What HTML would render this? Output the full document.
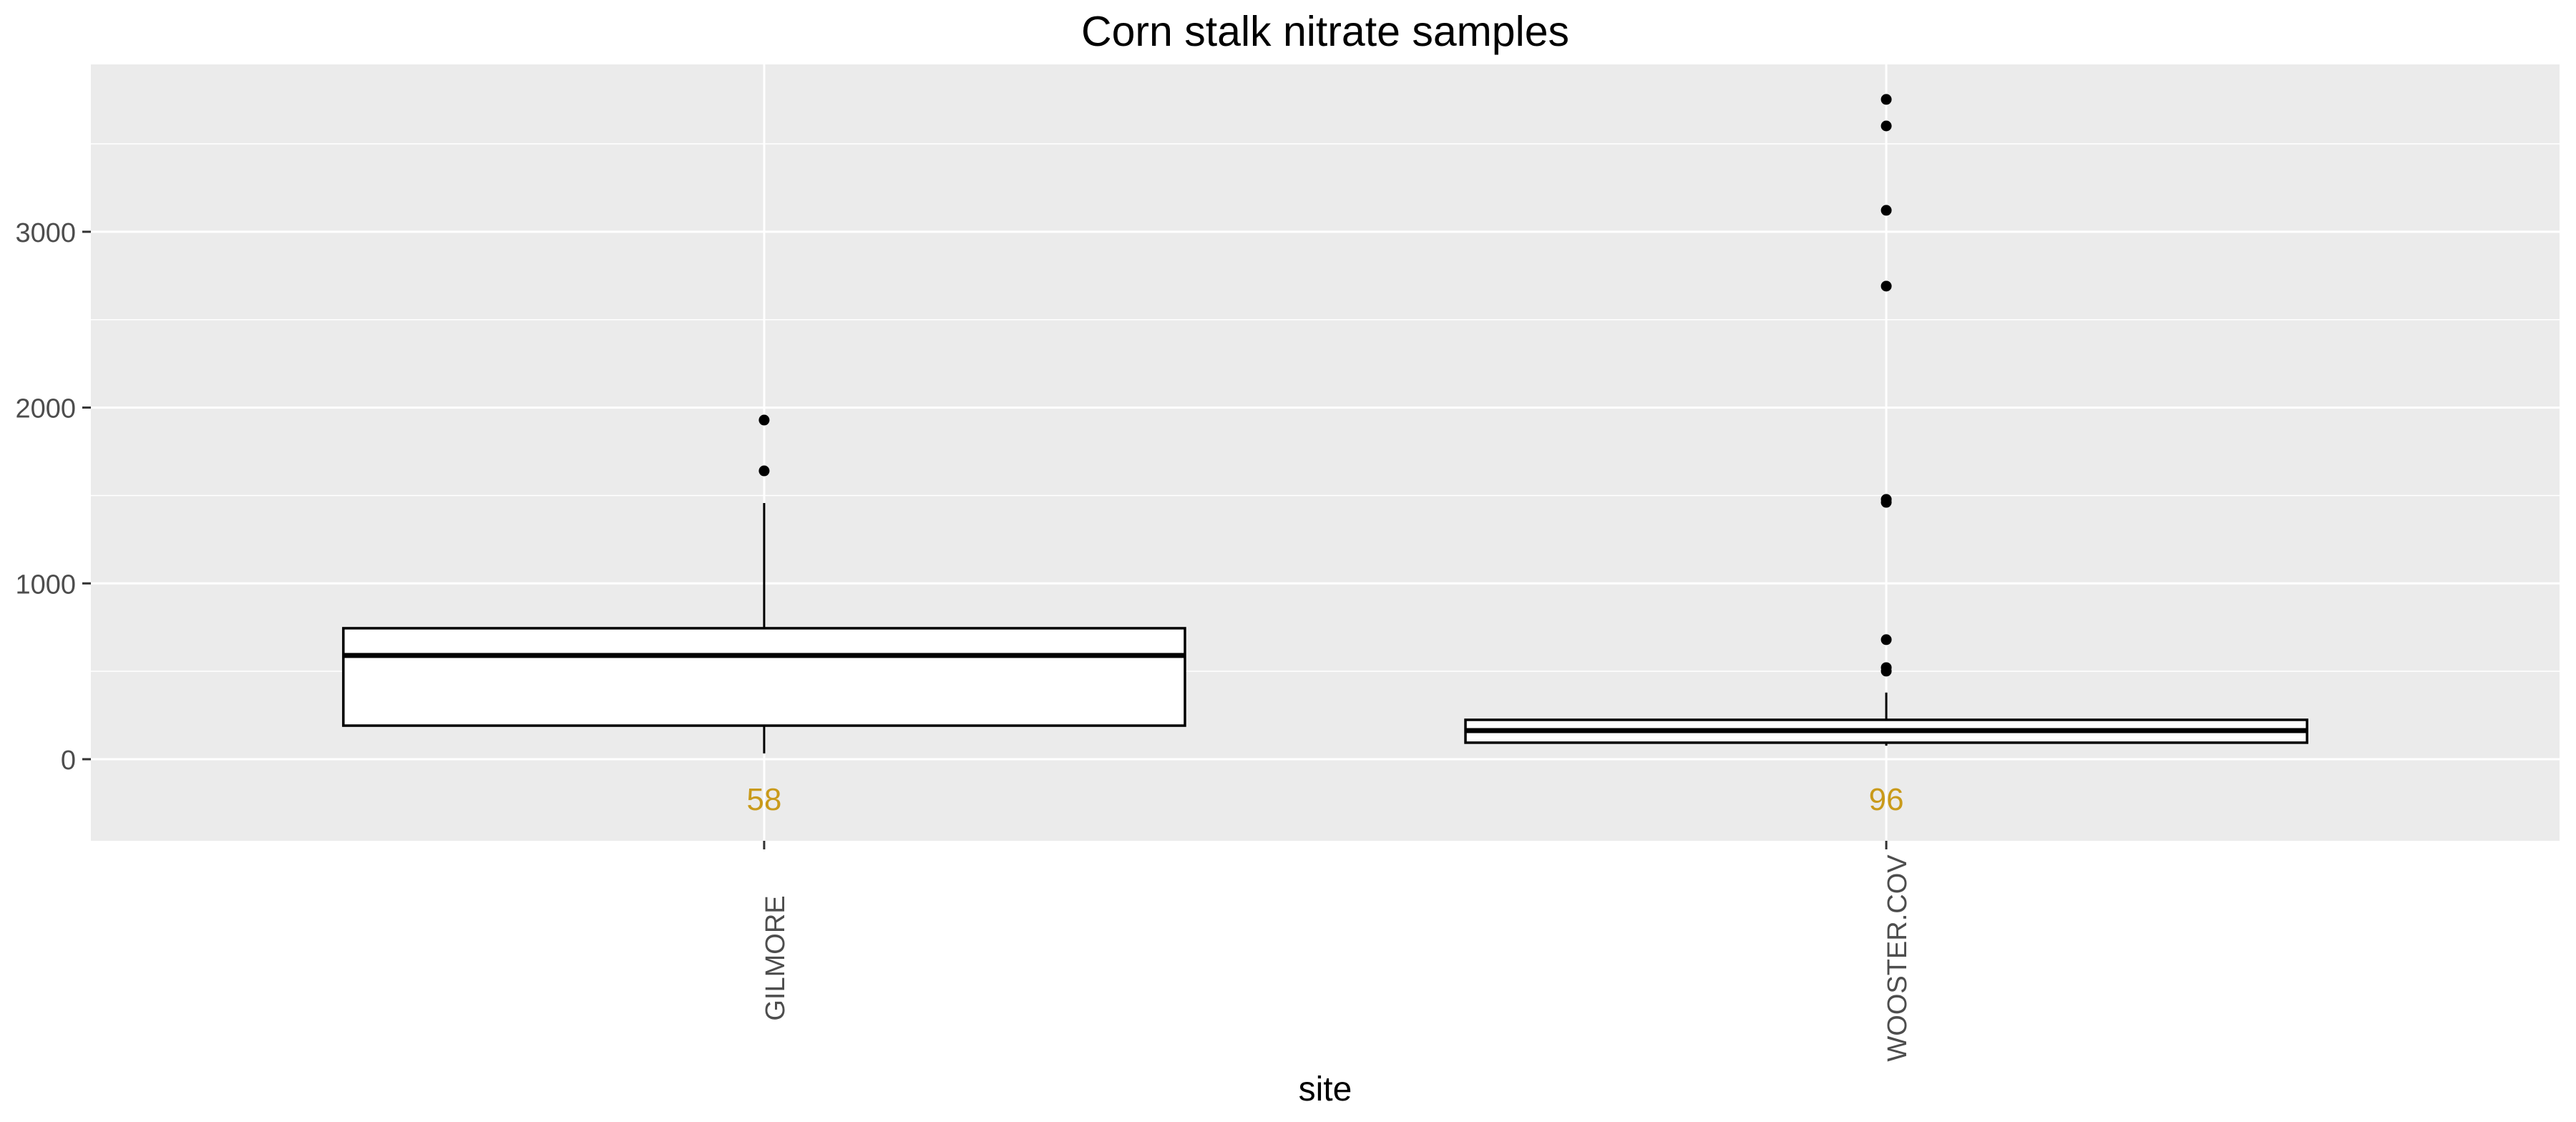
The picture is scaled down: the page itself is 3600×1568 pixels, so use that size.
<!DOCTYPE html>
<html><head><meta charset="utf-8"><style>
html,body{margin:0;padding:0;background:#fff;}
svg{display:block;font-family:"Liberation Sans",Arial,sans-serif;}
</style></head><body>
<svg id="chart" width="3600" height="1568" viewBox="0 0 3600 1568" xmlns="http://www.w3.org/2000/svg">
<rect x="0" y="0" width="3600" height="1568" fill="#fff"/>
<text x="1852" y="64" text-anchor="middle" font-size="59" fill="#000">Corn stalk nitrate samples</text>
<rect x="127" y="90" width="3450" height="1085" fill="#EBEBEB"/>
<g id="grid"></g>
<g id="axes"></g>
<g id="marks"></g>
<text x="1852" y="1538" text-anchor="middle" font-size="48" fill="#000">site</text>
</svg>
<script>
const categories = ["GILMORE", "WOOSTER.COV"];
const counts = [58, 96];
const q1 = [191, 94];
const medians = [590, 163];
const q3 = [745, 224];
const whiskerLow = [33, 77];
const whiskerHigh = [1457, 379];
const outliersGilmore = [1929, 1640];
const outliersWooster = [3753, 3602, 3122, 2691, 1478, 1461, 680, 521, 501];
const yTicks = [0, 1000, 2000, 3000];
const yMinor = [500, 1500, 2500, 3500];

const NS = "http://www.w3.org/2000/svg";
const P = {l:127, r:3577, t:90, b:1175};
const yMin = -464, yMax = 3952;
function yS(v){ return P.b - (v - yMin) / (yMax - yMin) * (P.b - P.t); }
const xMin = 0.4, xMax = categories.length + 0.6;
const unit = (P.r - P.l) / (xMax - xMin);
function xS(i){ return P.l + (i + 1 - xMin) * unit; }
function mk(tag, attrs, parent){
  const e = document.createElementNS(NS, tag);
  for (const k in attrs) e.setAttribute(k, attrs[k]);
  parent.appendChild(e);
  return e;
}
const grid = document.getElementById('grid');
const axes = document.getElementById('axes');
const marks = document.getElementById('marks');

yMinor.forEach(v => {
  const l = mk('line', {x1:P.l, x2:P.r, y1:yS(v), y2:yS(v), stroke:'#fff', 'stroke-width':1.5}, grid);
  
  
});
yTicks.forEach(v => {
  const y = yS(v);
  const l = mk('line', {x1:P.l, x2:P.r, y1:y, y2:y, stroke:'#fff', 'stroke-width':3}, grid);
  
  
  const t = mk('line', {x1:115, x2:P.l, y1:y, y2:y, stroke:'#333', 'stroke-width':3}, axes);
  
  
  const tx = mk('text', {x:106, y:y + 14, 'text-anchor':'end', 'font-size':38, fill:'#4D4D4D'}, axes);
  tx.textContent = v;
  
  
});
categories.forEach((c, i) => {
  const x = xS(i);
  const l = mk('line', {x1:x, x2:x, y1:P.t, y2:P.b, stroke:'#fff', 'stroke-width':3}, grid);
  
  
  const t = mk('line', {x1:x, x2:x, y1:P.b, y2:P.b + 12, stroke:'#333', 'stroke-width':3}, axes);
  
  
  const tx = mk('text', {x:0, y:0, 'text-anchor':'middle', 'font-size':38, fill:'#4D4D4D', transform:`translate(${x + 28},1339) rotate(-90)`}, axes);
  tx.textContent = c;
  
  
});

const outliers = [outliersGilmore, outliersWooster];
categories.forEach((c, i) => {
  const x = xS(i), hw = unit * 0.375;
  const g = mk('g', {}, marks);
  
  
  const w1 = mk('line', {x1:x, x2:x, y1:yS(q3[i]), y2:yS(whiskerHigh[i]), stroke:'#000', 'stroke-width':3}, g);
  
  
  const w2 = mk('line', {x1:x, x2:x, y1:yS(q1[i]), y2:yS(whiskerLow[i]), stroke:'#000', 'stroke-width':3}, g);
  
  
  const r = mk('rect', {x:x - hw, y:yS(q3[i]), width:hw * 2, height:yS(q1[i]) - yS(q3[i]), fill:'#fff', stroke:'#000', 'stroke-width':3.5}, g);
  
  
  const m = mk('line', {x1:x - hw, x2:x + hw, y1:yS(medians[i]), y2:yS(medians[i]), stroke:'#000', 'stroke-width':7}, g);
  
  
  outliers[i].forEach(v => {
    const p = mk('circle', {cx:x, cy:yS(v), r:7.5, fill:'#000'}, g);
    
    
  });
  const n = mk('text', {x:x, y:1132, 'text-anchor':'middle', 'font-size':44, fill:'#C99A1A'}, marks);
  n.textContent = counts[i];
  
  
});
</script>
</body></html>
